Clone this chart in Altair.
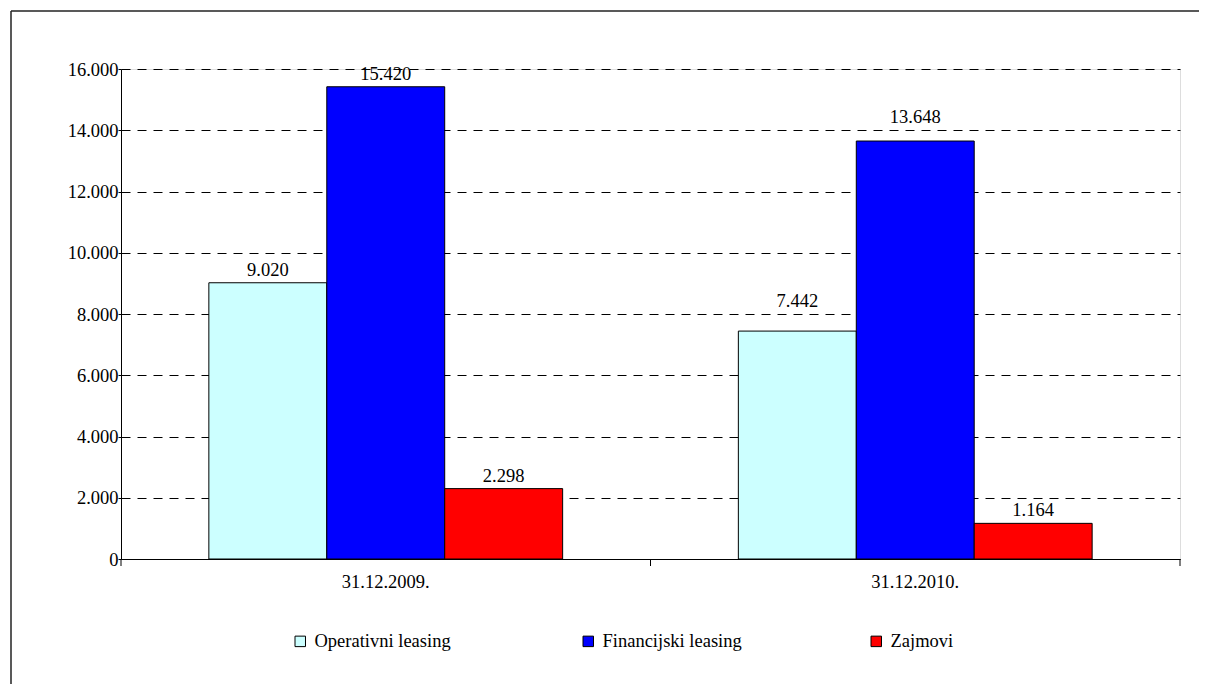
import altair as alt
import pandas as pd

categories = ["31.12.2009.", "31.12.2010."]
series = ["Operativni leasing", "Financijski leasing", "Zajmovi"]
values_2009 = [9020, 15420, 2298]
values_2010 = [7442, 13648, 1164]
colors = ["#CCFFFF", "#0000FF", "#FF0000"]
y_ticks = [0, 2000, 4000, 6000, 8000, 10000, 12000, 14000, 16000]

rows = []
for cat, vals in zip(categories, [values_2009, values_2010]):
    for s, v in zip(series, vals):
        rows.append({"cat": cat, "series": s, "value": v})
df = pd.DataFrame(rows)

W, H = 1059, 490
FONT = "Liberation Serif"
FS = 18.5

x_enc = alt.X("cat:N", sort=categories,
              scale=alt.Scale(paddingInner=0, paddingOuter=0),
              axis=alt.Axis(title=None, ticks=False, tickSize=0, labelPadding=13,
                            labelFont=FONT, labelFontSize=FS, labelColor="black",
                            labelAngle=0, domainColor="black", grid=False))

base = alt.Chart(df)

bars = base.mark_bar(stroke="black", strokeWidth=1).encode(
    x=x_enc,
    xOffset=alt.XOffset("series:N", sort=series,
                        scale=alt.Scale(paddingInner=0, paddingOuter=0.745)),
    y=alt.Y("value:Q",
            scale=alt.Scale(domain=[0, 16000], nice=False),
            axis=alt.Axis(title=None, values=y_ticks,
                          labelExpr="replace(format(datum.value, ','), ',', '.')",
                          labelFont=FONT, labelFontSize=FS, labelColor="black",
                          labelPadding=0, tickSize=3, tickColor="black",
                          domainColor="black", grid=True, gridColor="black",
                          gridDash=[9, 7], gridWidth=1)),
    fill=alt.Fill("series:N", sort=series,
                  scale=alt.Scale(domain=series, range=colors),
                  legend=alt.Legend(title=None, orient="none", legendX=170, legendY=563,
                                    direction="horizontal", columns=3, gridAlign="all",
                                    columnPadding=125, symbolType="square", symbolSize=110,
                                    symbolStrokeColor="black", symbolStrokeWidth=1,
                                    labelFont=FONT, labelFontSize=FS, labelColor="black",
                                    labelOffset=5)),
)

# labels are lifted above a gridline they would otherwise cross
labels = base.transform_calculate(
    label="replace(format(datum.value, ','), ',', '.')",
    g="ceil(datum.value / 2000) * 2000",
).transform_calculate(
    ly="(datum.g - datum.value < 700 && datum.g < 16000) ? datum.g : datum.value"
).mark_text(font=FONT, fontSize=FS, color="black", baseline="alphabetic", dy=-7).encode(
    x=alt.X("cat:N", sort=categories),
    xOffset=alt.XOffset("series:N", sort=series),
    y=alt.Y("ly:Q"),
    text="label:N",
)

frame_df = pd.DataFrame({"k": [0]})
frame = alt.Chart(frame_df)
frame_left = frame.mark_rule(color="#222", strokeWidth=1.5).encode(
    x=alt.value(-110), y=alt.value(-58), y2=alt.value(H + 200))
frame_top = frame.mark_rule(color="#222", strokeWidth=1.5).encode(
    y=alt.value(-58), x=alt.value(-110), x2=alt.value(W + 200))

tick_df = pd.DataFrame({"cat": categories})
ticks0 = alt.Chart(tick_df).mark_rule(color="black").encode(
    x=alt.X("cat:N", sort=categories, bandPosition=0),
    y=alt.value(H), y2=alt.value(H + 7))
ticks1 = alt.Chart(tick_df).mark_rule(color="black").encode(
    x=alt.X("cat:N", sort=categories, bandPosition=1),
    y=alt.value(H), y2=alt.value(H + 7))

chart = alt.layer(bars, labels, ticks0, ticks1, frame_left, frame_top).properties(
    width=W, height=H,
    autosize=alt.AutoSizeParams(type="none"),
    padding={"left": 113, "top": 61, "right": 19, "bottom": 125},
).configure_view(stroke="black", strokeWidth=1).configure(background="white")

chart.save("out.html", embed_options={"renderer": "svg", "actions": False})
